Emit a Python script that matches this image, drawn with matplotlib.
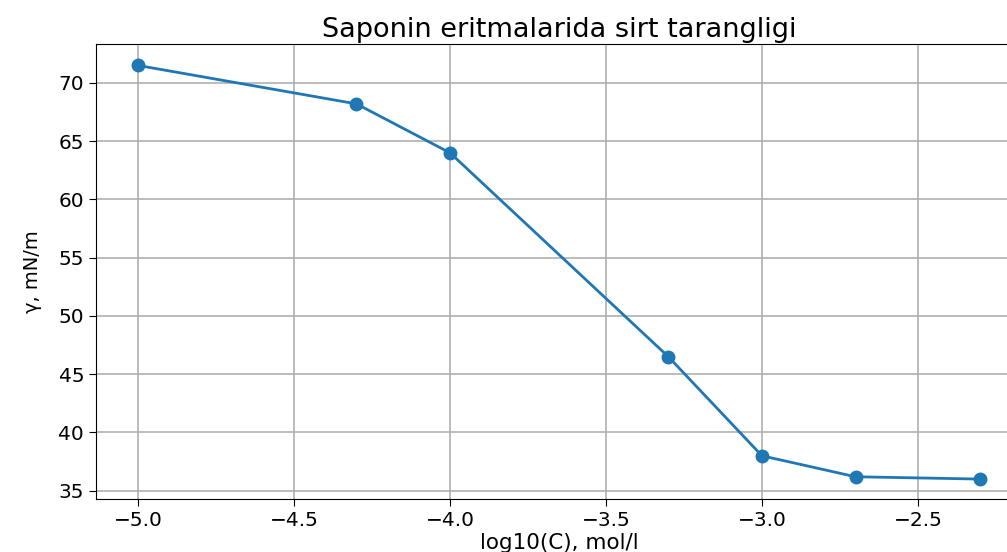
import matplotlib
matplotlib.use("Agg")
import matplotlib.pyplot as plt

log_c = [-5.0, -4.3, -4.0, -3.3, -3.0, -2.7, -2.3]
gamma = [71.5, 68.2, 64.0, 46.5, 38.0, 36.2, 36.0]
x_ticks = [-5.0, -4.5, -4.0, -3.5, -3.0, -2.5]
y_ticks = [35, 40, 45, 50, 55, 60, 65, 70]

fig = plt.figure(figsize=(10.07, 5.52), dpi=100)
ax = fig.add_axes([0.0953, 0.096, 0.92, 0.8243])
ax.plot(log_c, gamma, marker="o", color="#1f77b4", linewidth=2, markersize=9)
ax.set_xticks(x_ticks)
ax.set_yticks(y_ticks)
ax.set_xlim(-5.135, -2.165)
ax.set_ylim(34.29, 73.34)
ax.grid(True, color="#b0b0b0", linewidth=1.2)
ax.tick_params(labelsize=14.5, length=5)
ax.set_title("Saponin eritmalarida sirt tarangligi", fontsize=19.5, pad=5)
ax.set_xlabel("log10(C), mol/l", fontsize=15.5, labelpad=2)
ax.set_ylabel("γ, mN/m", fontsize=14, labelpad=12)
fig.savefig("out.png", dpi=100)
